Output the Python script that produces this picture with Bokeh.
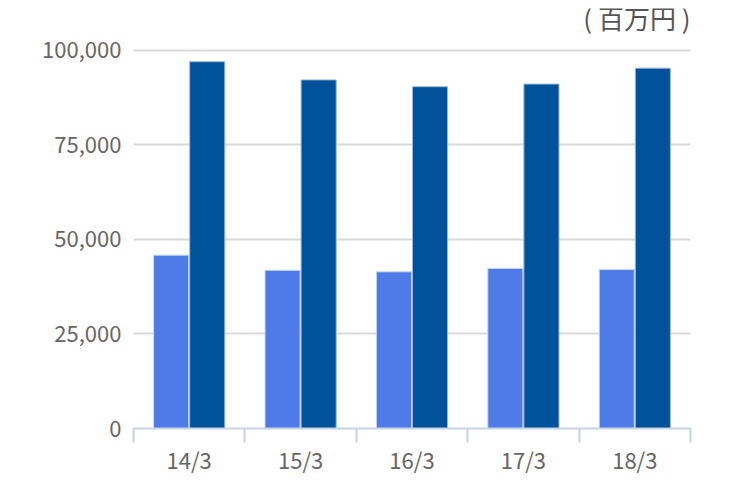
from bokeh.plotting import figure
from bokeh.models import ColumnDataSource, Range1d, FixedTicker, Label, NumeralTickFormatter
from bokeh.transform import dodge
from bokeh.embed import file_html
from bokeh.resources import INLINE

categories = ["14/3", "15/3", "16/3", "17/3", "18/3"]
series_a = [45800, 41800, 41400, 42300, 42000]
series_b = [96900, 92100, 90300, 91000, 95200]
y_ticks = [0, 25000, 50000, 75000, 100000]
unit_label = "( 百万円 )"

pos = [i + 0.5 for i in range(len(categories))]
src = ColumnDataSource(dict(x=pos, a=series_a, b=series_b))

FONT = "Noto Sans CJK JP"
FRAME_H = 420
PX_PER_100K = 378.5
Y_END = FRAME_H / PX_PER_100K * 100000
p = figure(frame_width=557, frame_height=FRAME_H, output_backend="svg", toolbar_location=None,
           x_range=Range1d(0, len(categories)), y_range=Range1d(0, Y_END),
           min_border_left=133, min_border_right=52, min_border_top=8, min_border_bottom=10)
p.outline_line_color = None
p.background_fill_color = "white"
p.border_fill_color = "white"

p.vbar(x=dodge("x", -0.162, range=p.x_range), top="a", width=0.315, bottom=0, source=src,
       fill_color="#4F7BE8", line_color="#c9d6f3", line_width=1)
p.vbar(x=dodge("x", 0.162, range=p.x_range), top="b", width=0.315, bottom=0, source=src,
       fill_color="#00529B", line_color="#9fb7d6", line_width=1)

# y axis
p.yaxis.ticker = FixedTicker(ticks=y_ticks)
p.yaxis.formatter = NumeralTickFormatter(format="0,0")
p.yaxis.axis_line_color = None
p.yaxis.major_tick_line_color = None
p.yaxis.major_tick_out = 0
p.yaxis.major_tick_in = 0
p.yaxis.minor_tick_line_color = None
p.yaxis.major_label_text_font = FONT
p.yaxis.major_label_text_font_size = "22px"
p.yaxis.major_label_text_color = "#666666"
p.yaxis.major_label_standoff = 12
p.ygrid.ticker = FixedTicker(ticks=y_ticks)
p.ygrid.grid_line_color = "#d9d9d9"
p.ygrid.grid_line_width = 2

# x axis
p.xgrid.grid_line_color = None
p.xaxis.ticker = FixedTicker(ticks=pos, minor_ticks=list(range(len(categories) + 1)))
p.xaxis.major_label_overrides = {x: c for x, c in zip(pos, categories)}
p.xaxis.axis_line_color = "#c8d4e3"
p.xaxis.axis_line_width = 2
p.xaxis.major_tick_line_color = None
p.xaxis.major_tick_out = 0
p.xaxis.major_tick_in = 0
p.xaxis.minor_tick_line_color = "#c8d4e3"
p.xaxis.minor_tick_line_width = 2
p.xaxis.minor_tick_out = 14
p.xaxis.minor_tick_in = 0
p.xaxis.major_label_text_font = FONT
p.xaxis.major_label_text_font_size = "22px"
p.xaxis.major_label_text_color = "#666666"
p.xaxis.major_label_standoff = 0

unit = Label(x=len(categories), y=y_ticks[-1], y_offset=33, text=unit_label, text_align="right",
             text_baseline="middle", text_font=FONT, text_font_size="26px", text_color="#555555")
p.add_layout(unit)

open("out.html", "w").write(file_html(p, INLINE))
